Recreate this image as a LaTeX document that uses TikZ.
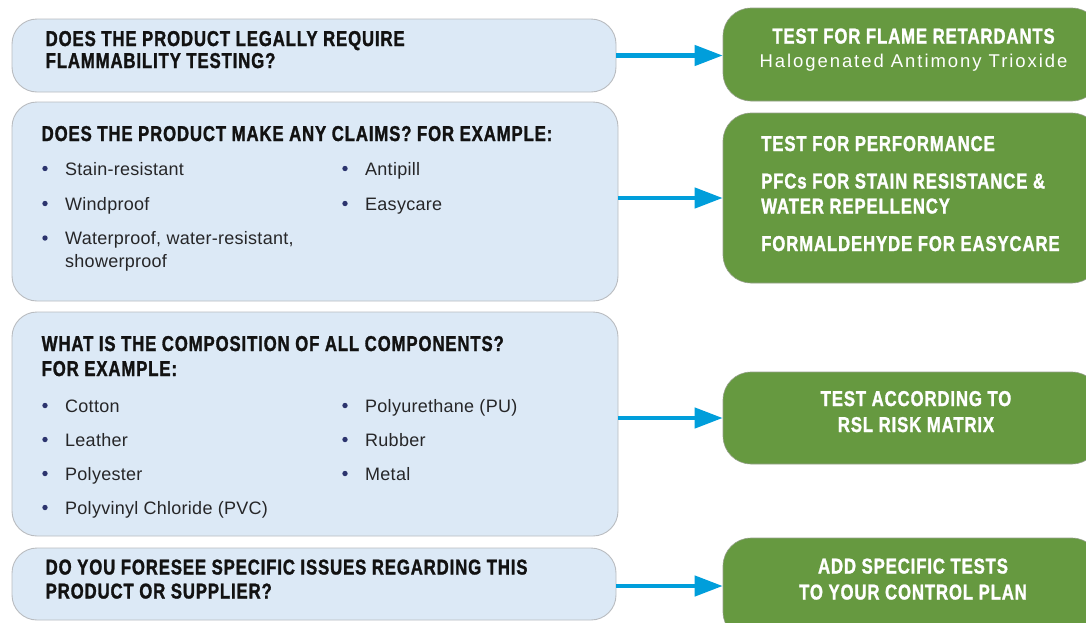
\documentclass[tikz,border=0pt]{standalone}
\usepackage{fontspec}
\setmainfont{Liberation Sans}
\newfontfamily\hdfont{Liberation Sans}[FakeStretch=0.78, FakeBold=1.3, LetterSpace=4]
\newfontfamily\bodyfont{Liberation Sans}[LetterSpace=1.5]
\newfontfamily\lightfont{Liberation Sans}[LetterSpace=10.5]
\usetikzlibrary{arrows.meta}
\definecolor{qfill}{RGB}{220,233,246}
\definecolor{qline}{RGB}{185,188,192}
\definecolor{gfill}{RGB}{102,153,64}
\definecolor{gline}{RGB}{150,160,140}
\definecolor{arrblue}{RGB}{0,158,219}
\definecolor{dotnavy}{RGB}{44,52,110}
\definecolor{hdtext}{RGB}{18,18,18}
\definecolor{bodytext}{RGB}{38,38,40}
\tikzset{
  qbox/.style={rectangle, rounded corners=25pt, fill=qfill, draw=qline, line width=0.9pt, inner sep=0pt},
  gbox/.style={rectangle, rounded corners=28pt, fill=gfill, draw=gline, line width=0.6pt, inner sep=0pt},
  arr/.style={draw=arrblue, line width=4.3pt, -{Triangle[length=28pt,width=20pt]}},
  hd/.style={font=\hdfont\bfseries\fontsize{21.5}{21.5}\selectfont, text=hdtext, inner sep=0pt, anchor=base west},
  ghd/.style={font=\hdfont\bfseries\fontsize{21.5}{21.5}\selectfont, text=white, inner sep=0pt, anchor=base west},
  ghdc/.style={font=\hdfont\bfseries\fontsize{21.5}{21.5}\selectfont, text=white, inner sep=0pt, anchor=base},
  glt/.style={font=\lightfont\fontsize{18.5}{18.5}\selectfont, text=white, inner sep=0pt, anchor=base},
  body/.style={font=\bodyfont\fontsize{18}{18}\selectfont, text=bodytext, inner sep=0pt, anchor=base west},
  bul/.style={fill=dotnavy}
}
\begin{document}
\begin{tikzpicture}[x=1pt,y=-1pt]
\useasboundingbox (0,0) rectangle (1086,622);
\clip (0,0) rectangle (1086,622);
% question boxes
\node[qbox, minimum width=604pt, minimum height=73pt] (q1) at (314,55.5) {};
\node[qbox, minimum width=606pt, minimum height=199pt] (q2) at (315,201.5) {};
\node[qbox, minimum width=606pt, minimum height=224pt] (q3) at (315,424) {};
\node[qbox, minimum width=604pt, minimum height=72pt] (q4) at (314,584) {};
% answer boxes
\node[gbox, minimum width=377pt, minimum height=93pt] (a1) at (911.5,54.5) {};
\node[gbox, minimum width=377pt, minimum height=170pt] (a2) at (911.5,198) {};
\node[gbox, minimum width=377pt, minimum height=92pt] (a3) at (911.5,418) {};
\node[gbox, minimum width=377pt, minimum height=102pt] (a4) at (911.5,589) {};
\coordinate (q4out) at (616,586);
% arrows
\draw[arr] (q1.east) -- (q1.east -| a1.west);
\draw[arr] (a2.west -| q2.east) -- (a2.west);
\draw[arr] (a3.west -| q3.east) -- (a3.west);
\draw[arr] (q4out) -- (q4out -| a4.west);
% box 1 text
\node[hd] (q1l1) at (45.5,46) {DOES THE PRODUCT LEGALLY REQUIRE};
\node[hd] (q1l2) at (45.5,68) {FLAMMABILITY TESTING?};
% box 2 text
\node[hd] (q2h) at (41.5,141) {DOES THE PRODUCT MAKE ANY CLAIMS? FOR EXAMPLE:};
\fill[bul] (45,168.5) circle (2.7pt);
\fill[bul] (45,203.5) circle (2.7pt);
\fill[bul] (45,238) circle (2.7pt);
\fill[bul] (345,168.5) circle (2.7pt);
\fill[bul] (345,203.5) circle (2.7pt);
\node[body] (q2b1) at (65,175) {Stain-resistant};
\node[body] (q2b2) at (65,210) {Windproof};
\node[body] (q2b3) at (65,244.5) {Waterproof, water-resistant,};
\node[body] (q2b4) at (65,267.5) {showerproof};
\node[body] (q2c1) at (365,175) {Antipill};
\node[body] (q2c2) at (365,210) {Easycare};
% box 3 text
\node[hd] (q3h1) at (41.5,351) {WHAT IS THE COMPOSITION OF ALL COMPONENTS?};
\node[hd] (q3h2) at (41.5,376) {FOR EXAMPLE:};
\fill[bul] (45,405.5) circle (2.7pt);
\fill[bul] (45,439.5) circle (2.7pt);
\fill[bul] (45,473.5) circle (2.7pt);
\fill[bul] (45,507.5) circle (2.7pt);
\fill[bul] (345,405.5) circle (2.7pt);
\fill[bul] (345,439.5) circle (2.7pt);
\fill[bul] (345,473.5) circle (2.7pt);
\node[body] (q3b1) at (65,412) {Cotton};
\node[body] (q3b2) at (65,446) {Leather};
\node[body] (q3b3) at (65,480) {Polyester};
\node[body] (q3b4) at (65,514) {Polyvinyl Chloride (PVC)};
\node[body] (q3c1) at (365,412) {Polyurethane (PU)};
\node[body] (q3c2) at (365,446) {Rubber};
\node[body] (q3c3) at (365,480) {Metal};
% box 4 text
\node[hd] (q4l1) at (45.5,574.5) {DO YOU FORESEE SPECIFIC ISSUES REGARDING THIS};
\node[hd] (q4l2) at (45.5,598.5) {PRODUCT OR SUPPLIER?};
% answer texts
\node[ghdc] (a1l1) at (913.5,43.5) {TEST FOR FLAME RETARDANTS};
\node[glt] (a1l2) at (913.5,67) {Halogenated Antimony Trioxide};
\node[ghd] (a2l1) at (761,151) {TEST FOR PERFORMANCE};
\node[ghd] (a2l2) at (761,188.5) {PFCs FOR STAIN RESISTANCE \&};
\node[ghd] (a2l3) at (761,213.5) {WATER REPELLENCY};
\node[ghd] (a2l4) at (761,251) {FORMALDEHYDE FOR EASYCARE};
\node[ghdc] (a3l1) at (916,406) {TEST ACCORDING TO};
\node[ghdc] (a3l2) at (916,432) {RSL RISK MATRIX};
\node[ghdc] (a4l1) at (913,573.5) {ADD SPECIFIC TESTS};
\node[ghdc] (a4l2) at (913,599.5) {TO YOUR CONTROL PLAN};
\end{tikzpicture}
\end{document}
